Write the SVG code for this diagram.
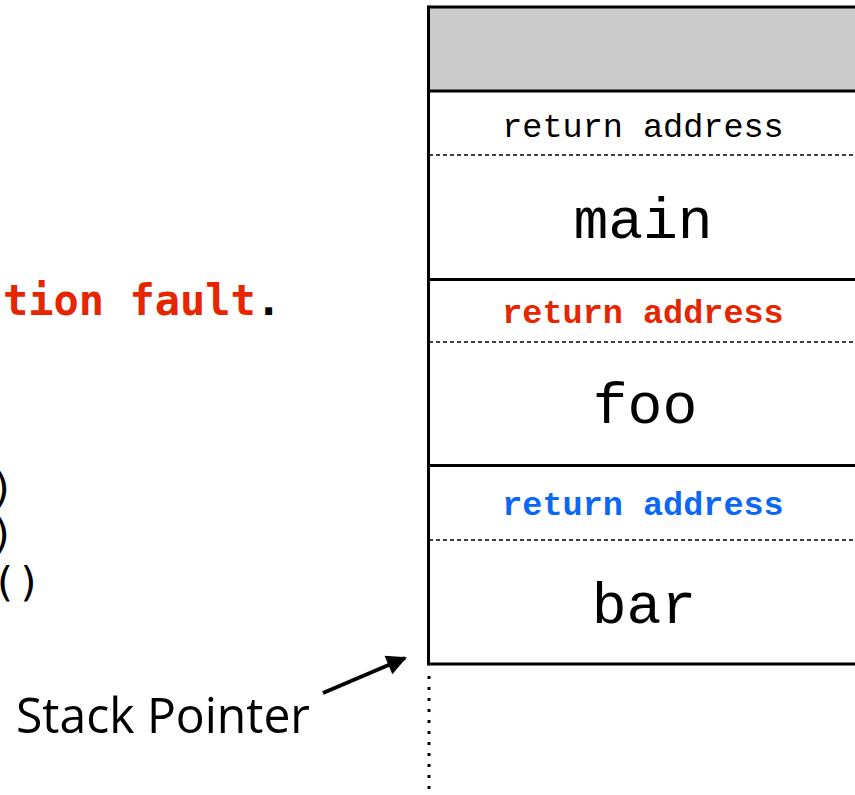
<svg xmlns="http://www.w3.org/2000/svg" width="855" height="795" viewBox="0 0 855 795">
  <style>
    .frame { stroke: #000; stroke-width: 3; fill: none; }
    .sep { stroke: #000; stroke-width: 1.5; stroke-dasharray: 4 3; fill: none; }
    .ret { font-family: "Liberation Mono", "Courier New", monospace; font-size: 33.5px; text-anchor: middle; }
    .ret-plain { fill: #000; }
    .ret-red { font-weight: bold; fill: #e52600; }
    .ret-blue { font-weight: bold; fill: #0b68f5; }
    .fname { font-family: "Liberation Mono", "Courier New", monospace; font-size: 58px; text-anchor: middle; fill: #000; }
    .code { font-family: "DejaVu Sans Mono", monospace; font-size: 41px; fill: #000; }
    .fault { font-size: 42px; font-weight: bold; fill: #e52600; }
    .label { font-family: "Open Sans", "Liberation Sans", sans-serif; font-size: 50px; font-weight: 500; fill: #000; }
  </style>
  <defs>
    <marker id="arrowhead" viewBox="0 0 10 10" refX="9" refY="5" markerWidth="6" markerHeight="5" markerUnits="strokeWidth" orient="auto">
      <path d="M0,0 L10,5 L0,10 z" fill="#000"/>
    </marker>
  </defs>
  <rect width="855" height="795" fill="#fff"/>

  <!-- console output (partially off-canvas) -->
  <g id="console">
    <text class="code fault" x="3" y="315">tion fault<tspan style="fill:#000">.</tspan></text>
    <text class="code" x="-10" y="502">)</text>
    <text class="code" x="-10" y="548">)</text>
    <text class="code" x="-8" y="596">()</text>
  </g>

  <!-- call stack -->
  <g id="stack-reserved">
    <rect x="428.5" y="7" width="440" height="84" fill="#cccccc"/>
  </g>
  <g id="frame-main">
    <text class="ret ret-plain" x="643" y="137">return address</text>
    <line class="sep" x1="429" y1="155" x2="855" y2="155"/>
    <text class="fname" x="643" y="238">main</text>
  </g>
  <g id="frame-foo">
    <text class="ret ret-red" x="643" y="323">return address</text>
    <line class="sep" x1="429" y1="342" x2="855" y2="342"/>
    <text class="fname" x="645" y="423">foo</text>
  </g>
  <g id="frame-bar">
    <text class="ret ret-blue" x="643" y="515">return address</text>
    <line class="sep" x1="429" y1="540" x2="855" y2="540"/>
    <text class="fname" x="644" y="623">bar</text>
  </g>
  <g id="stack-lines">
    <line class="frame" x1="428.5" y1="7" x2="855" y2="7"/>
    <line class="frame" x1="428.5" y1="91" x2="855" y2="91"/>
    <line class="frame" x1="428.5" y1="279.5" x2="855" y2="279.5"/>
    <line class="frame" x1="428.5" y1="465.5" x2="855" y2="465.5"/>
    <line class="frame" x1="428.5" y1="664" x2="855" y2="664"/>
    <line class="frame" x1="428.5" y1="5.5" x2="428.5" y2="665.5"/>
    <line x1="429" y1="676" x2="429" y2="795" stroke="#000" stroke-width="3" stroke-dasharray="3 8"/>
  </g>

  <g id="stack-pointer">
    <text class="label" x="16" y="733" textLength="294" lengthAdjust="spacingAndGlyphs">Stack Pointer</text>
  </g>

  <g id="connectors">
    <line x1="323" y1="693" x2="405" y2="658" stroke="#000" stroke-width="4" marker-end="url(#arrowhead)"/>
  </g>
</svg>
